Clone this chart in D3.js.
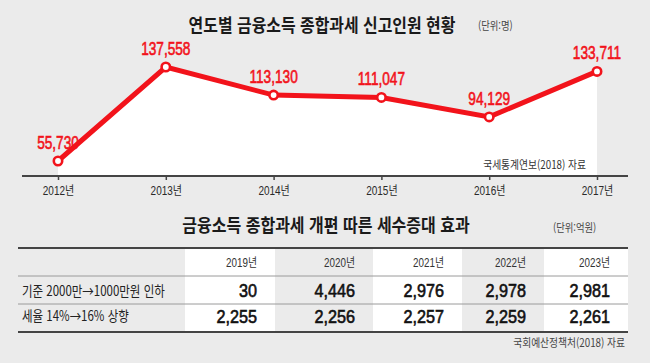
<!DOCTYPE html>
<html lang="ko">
<head>
<meta charset="UTF-8" />
<title>금융소득 종합과세 신고인원</title>
<script src="https://cdn.jsdelivr.net/npm/d3@7"></script>
<style>
  body { margin: 0; background: #ebebeb; }
  text { font-family: "Liberation Sans", "Noto Sans CJK KR", sans-serif; }
  text.kr { font-family: "Noto Sans CJK KR", sans-serif; }
</style>
</head>
<body>
<div id="chart"></div>
<script>
// --- data ---
const years = ["2012", "2013", "2014", "2015", "2016", "2017"];
const filers = [55730, 137558, 113130, 111047, 94129, 133711];

const tableYears = ["2019", "2020", "2021", "2022", "2023"];
const rowLabels = ["기준 2000만→1000만원 인하", "세율 14%→16% 상향"];
const thresholdGain = [30, 4446, 2976, 2978, 2981];
const rateGain = [2255, 2256, 2257, 2259, 2261];

// --- layout ---
const width = 650, height = 363;
const red = "#f2131b";
const fmt = d3.format(",");

const svg = d3.select("#chart").append("svg")
  .attr("width", width).attr("height", height);

svg.append("rect").attr("width", width).attr("height", height).attr("fill", "#ebebeb");

// condensed text: move to (x,y) and squeeze horizontally
function squeeze(sel, fx, fy, k) {
  const f = (v, d, i) => (typeof v === "function" ? v(d, i) : v);
  sel.attr("transform", (d, i) => `translate(${f(fx, d, i)},${f(fy, d, i)}) scale(${k},1)`);
}

// ---------- line chart ----------
const pts = years.map((yr, i) => ({ yr, v: filers[i] }));
const baseY = 176;

const x = d3.scalePoint().domain(years).range([58, 597]);
const y = d3.scaleLinear().domain(d3.extent(filers)).range([161, 67]);

svg.append("path")
  .datum(pts)
  .attr("fill", "#fff")
  .attr("d", d3.area().x(d => x(d.yr)).y0(baseY).y1(d => y(d.v)));

// axis
const axis = svg.append("g")
  .attr("transform", `translate(0,${baseY})`)
  .call(d3.axisBottom(x).tickSize(4).tickPadding(6).tickFormat(d => d + "년"));
axis.select(".domain").remove();
axis.selectAll(".tick line").attr("stroke", "#444").attr("stroke-width", 1.5);
axis.selectAll(".tick text")
  .attr("fill", "#2a2a2a")
  .style("font-size", "12.5px")
  .style("font-family", "'Liberation Sans', 'Noto Sans CJK KR', sans-serif")
  .attr("transform", "scale(0.8,1)");
svg.append("line")
  .attr("x1", 22).attr("x2", 628).attr("y1", baseY).attr("y2", baseY)
  .attr("stroke", "#444").attr("stroke-width", 2);

// line + points
svg.append("path")
  .datum(pts)
  .attr("fill", "none")
  .attr("stroke", red)
  .attr("stroke-width", 5)
  .attr("d", d3.line().x(d => x(d.yr)).y(d => y(d.v)));

svg.selectAll("circle.pt")
  .data(pts)
  .join("circle")
  .attr("class", "pt")
  .attr("cx", d => x(d.yr))
  .attr("cy", d => y(d.v))
  .attr("r", 4.2)
  .attr("fill", "#fff")
  .attr("stroke", red)
  .attr("stroke-width", 2.6);

svg.selectAll("text.val")
  .data(pts)
  .join("text")
  .attr("class", "val")
  .attr("text-anchor", "middle")
  .attr("fill", red)
  .attr("stroke", red)
  .attr("stroke-width", 0.6)
  .style("font-size", "17.5px")
  .text(d => fmt(d.v))
  .call(squeeze, d => x(d.yr), d => y(d.v) - 12, 0.78);

// titles
svg.append("text").attr("class", "kr")
  .attr("text-anchor", "middle").attr("fill", "#1a1a1a")
  .style("font-size", "18px").style("font-weight", "bold")
  .text("연도별 금융소득 종합과세 신고인원 현황")
  .call(squeeze, 322, 32, 0.885);
svg.append("text").attr("class", "kr")
  .attr("fill", "#444").style("font-size", "11px")
  .text("(단위:명)")
  .call(squeeze, 478, 30, 0.85);

svg.append("text").attr("class", "kr")
  .attr("text-anchor", "end").attr("fill", "#333")
  .style("font-size", "11.5px")
  .text("국세통계연보(2018) 자료")
  .call(squeeze, 586, 169, 0.85);

// ---------- table ----------
svg.append("text").attr("class", "kr")
  .attr("text-anchor", "middle").attr("fill", "#1a1a1a")
  .style("font-size", "18px").style("font-weight", "bold")
  .text("금융소득 종합과세 개편 따른 세수증대 효과")
  .call(squeeze, 326, 232, 0.89);
svg.append("text").attr("class", "kr")
  .attr("fill", "#444").style("font-size", "11px")
  .text("(단위:억원)")
  .call(squeeze, 553, 232, 0.85);

const colEdges = [185, 275, 373, 462, 544, 628];
const rowLines = [248, 276, 304, 332];
const tableRows = [thresholdGain, rateGain];
const colRight = i => colEdges[i + 1] - 18;

svg.selectAll("rect.col")
  .data(tableYears.filter((d, i) => i % 2 === 0))
  .join("rect")
  .attr("class", "col")
  .attr("x", d => colEdges[tableYears.indexOf(d)])
  .attr("width", d => colEdges[tableYears.indexOf(d) + 1] - colEdges[tableYears.indexOf(d)])
  .attr("y", rowLines[0])
  .attr("height", rowLines[3] - rowLines[0])
  .attr("fill", "#fff");

svg.selectAll("line.row")
  .data(rowLines)
  .join("line")
  .attr("class", "row")
  .attr("x1", 18).attr("x2", 628)
  .attr("y1", d => d).attr("y2", d => d)
  .attr("stroke", (d, i) => (i === 0 || i === 3 ? "#444" : "#9a9a9a"))
  .attr("stroke-width", (d, i) => (i === 0 || i === 3 ? 2 : 1));

svg.selectAll("text.head")
  .data(tableYears)
  .join("text")
  .attr("class", "head")
  .attr("text-anchor", "end")
  .attr("fill", "#333")
  .style("font-size", "12px")
  .text(d => d + "년")
  .call(squeeze, (d, i) => colRight(i), 267, 0.82);

svg.selectAll("text.rowlab")
  .data(rowLabels)
  .join("text")
  .attr("class", "rowlab kr")
  .attr("fill", "#222")
  .style("font-size", "14px")
  .text(d => d)
  .call(squeeze, 22, (d, i) => 296 + i * 25, 0.82);

tableRows.forEach((vals, r) => {
  svg.selectAll(`text.cell${r}`)
    .data(vals)
    .join("text")
    .attr("class", `cell${r}`)
    .attr("text-anchor", "end")
    .attr("fill", "#111")
    .attr("stroke", "#111")
    .attr("stroke-width", 0.6)
    .style("font-size", "18px")
    .text(d => fmt(d))
    .call(squeeze, (d, i) => colRight(i), 297 + r * 26, 0.9);
});

svg.append("text").attr("class", "kr")
  .attr("text-anchor", "end").attr("fill", "#444")
  .style("font-size", "11.5px")
  .text("국회예산정책처(2018) 자료")
  .call(squeeze, 625, 347, 0.85);
</script>
</body>
</html>
